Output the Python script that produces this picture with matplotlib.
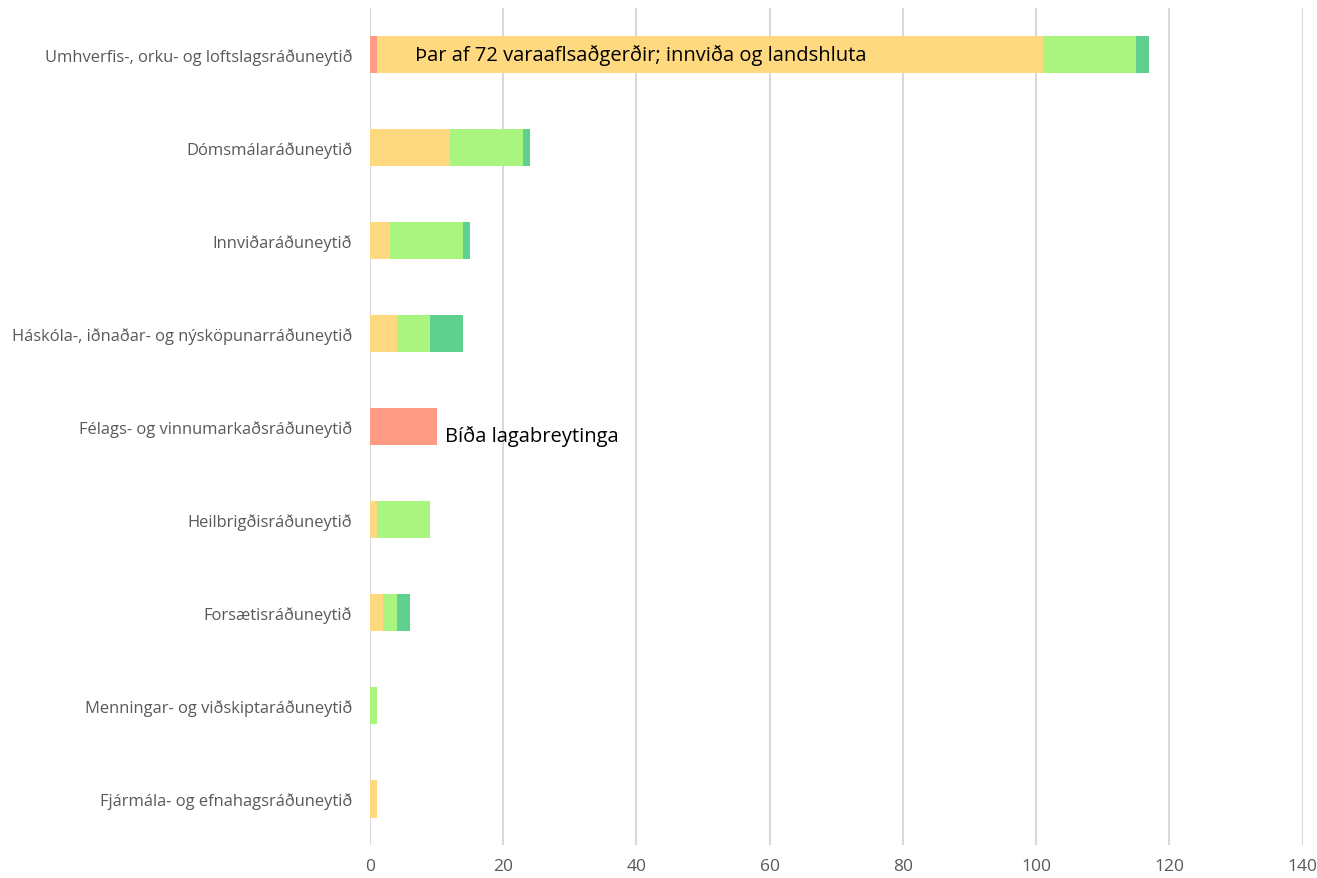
import numpy as np
import matplotlib.pyplot as plt

plt.rcParams['font.family'] = ['Open Sans', 'DejaVu Sans']

ministries = [
    'Umhverfis-, orku- og loftslagsráðuneytið',
    'Dómsmálaráðuneytið',
    'Innviðaráðuneytið',
    'Háskóla-, iðnaðar- og nýsköpunarráðuneytið',
    'Félags- og vinnumarkaðsráðuneytið',
    'Heilbrigðisráðuneytið',
    'Forsætisráðuneytið',
    'Menningar- og viðskiptaráðuneytið',
    'Fjármála- og efnahagsráðuneytið',
]

# stacked segments, left to right
red = [1, 0, 0, 0, 10, 0, 0, 0, 0]
yellow = [100, 12, 3, 4, 0, 1, 2, 0, 1]
light_green = [14, 11, 11, 5, 0, 8, 2, 1, 0]
dark_green = [2, 1, 1, 5, 0, 0, 2, 0, 0]

series = [red, yellow, light_green, dark_green]
colors = ['#FF9A85', '#FFD97F', '#A9F57F', '#5FD08F']

fig = plt.figure(figsize=(13.17, 8.79), dpi=100)
ax = fig.add_axes([0.281, 0.037, 0.708, 0.953])

y = np.arange(len(ministries))
left = np.zeros(len(ministries))
for vals, col in zip(series, colors):
    ax.barh(y, vals, left=left, height=0.4, color=col, zorder=3)
    left += np.array(vals)

ax.text(6.8, 0, 'Þar af 72 varaaflsaðgerðir; innviða og landshluta',
        fontsize=14.5, va='center', ha='left', color='black', zorder=4)
ax.text(11.3, 4.1, 'Bíða lagabreytinga',
        fontsize=14.5, va='center', ha='left', color='black', zorder=4)

ax.set_xlim(0, 140)
ax.set_ylim(len(ministries) - 0.5, -0.5)
ax.set_xticks(np.arange(0, 141, 20))
ax.set_yticks(y)
ax.set_yticklabels(ministries)
ax.grid(axis='x', color='#d9d9d9', linewidth=1.5, zorder=0)
for s in ax.spines.values():
    s.set_visible(False)
ax.tick_params(axis='y', length=0, pad=13, labelsize=11.9, labelcolor='#595959')
ax.tick_params(axis='x', length=0, pad=9, labelsize=12.5, labelcolor='#595959')

fig.savefig('out.png', dpi=100)
